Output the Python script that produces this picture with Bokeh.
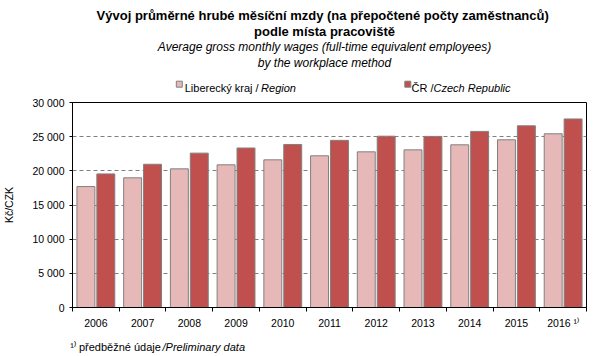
import math
from bokeh.plotting import figure
from bokeh.models import Range1d, FixedTicker, Label, ColumnDataSource
from bokeh.embed import file_html
from bokeh.resources import INLINE

years = ["2006", "2007", "2008", "2009", "2010", "2011", "2012", "2013", "2014", "2015", "2016"]
year_labels = ["2006", "2007", "2008", "2009", "2010", "2011", "2012", "2013", "2014", "2015", "2016 ¹⁾"]
liberec = [17700, 18980, 20290, 20880, 21610, 22200, 22780, 23070, 23810, 24540, 25420]
czech = [19550, 20960, 22590, 23340, 23860, 24460, 25070, 25040, 25770, 26590, 27590]
y_ticks = [0, 5000, 10000, 15000, 20000, 25000, 30000]
y_tick_labels = ["0", "5 000", "10 000", "15 000", "20 000", "25 000", "30 000"]

FONT = "Liberation Sans"
LIGHT = "#E6B9B8"
DARK = "#C0504D"
EDGE = "#808080"
NB = "\u00a0"

W, H = 596, 356
FL, FR, FT, FB = 70, 586, 102, 307

p = figure(width=W, height=H, output_backend="svg", toolbar_location=None,
           x_range=Range1d(0, len(years)), y_range=Range1d(0, 30000),
           min_border_left=FL, min_border_right=W - FR, min_border_top=FT,
           min_border_bottom=H - FB)
p.outline_line_color = "black"
p.outline_line_width = 1
p.background_fill_color = "white"
p.border_fill_color = "white"

centers = [i + 0.5 for i in range(len(years))]
off = 0.213
bw = 0.384
src = ColumnDataSource(dict(
    xl=[c - off for c in centers], xd=[c + off for c in centers],
    lib=liberec, cz=czech))
p.vbar(x="xl", top="lib", width=bw, source=src, fill_color=LIGHT,
       line_color=EDGE, line_width=1)
p.vbar(x="xd", top="cz", width=bw, source=src, fill_color=DARK,
       line_color=EDGE, line_width=1)

# axes
p.xgrid.visible = False
p.ygrid.ticker = FixedTicker(ticks=y_ticks[1:-1])
p.ygrid.grid_line_color = "#808080"
p.ygrid.grid_line_dash = "4 3"
p.ygrid.grid_line_width = 1

p.yaxis.ticker = FixedTicker(ticks=y_ticks)
p.yaxis.major_label_overrides = {t: s for t, s in zip(y_ticks, y_tick_labels)}
p.yaxis.major_tick_out = 3
p.yaxis.major_tick_in = 0
p.yaxis.minor_tick_line_color = None
p.yaxis.axis_line_color = "black"
p.yaxis.major_tick_line_color = "black"
p.yaxis.major_label_standoff = 5
p.yaxis.major_label_text_font = FONT
p.yaxis.major_label_text_font_size = "10.5px"
p.yaxis.major_label_text_color = "black"
p.yaxis.axis_label = "Kč/CZK"
p.yaxis.axis_label_text_font = FONT
p.yaxis.axis_label_text_font_size = "10.5px"
p.yaxis.axis_label_text_font_style = "normal"
p.yaxis.axis_label_text_color = "black"
p.yaxis.axis_label_standoff = 14

p.xaxis.ticker = FixedTicker(ticks=centers, minor_ticks=list(range(len(years) + 1)))
p.xaxis.major_label_overrides = {c: y for c, y in zip(centers, year_labels)}
p.xaxis.major_tick_line_color = None
p.xaxis.major_tick_out = 0
p.xaxis.major_tick_in = 0
p.xaxis.minor_tick_out = 4
p.xaxis.minor_tick_in = 0
p.xaxis.minor_tick_line_color = "black"
p.xaxis.axis_line_color = "black"
p.xaxis.major_label_standoff = 5
p.xaxis.major_label_text_font = FONT
p.xaxis.major_label_text_font_size = "10.5px"
p.xaxis.major_label_text_color = "black"


def th(size):
    return math.ceil(1.117 * size) - 1


# labels stacked in the panel above the frame; each one sits in its own slot,
# its screen y is measured upward from that slot's bottom edge
above_bottom = [FT]


def above(cx, cy, text, size, style="normal", align="left", baseline="alphabetic", **kw):
    pb = above_bottom[0]
    p.add_layout(Label(x=cx - FL, y=pb - cy, x_units="screen", y_units="screen",
                       text=text, text_font=FONT, text_font_size="%gpx" % size,
                       text_font_style=style, text_align=align,
                       text_baseline=baseline, text_color="black", **kw), "above")
    above_bottom[0] = pb - th(size)


# legend swatches
SW = 5.4
above(173.8, 80.7, NB * 4, SW, baseline="top", background_fill_color=LIGHT,
      border_line_color=EDGE, border_line_width=1)
above(402.3, 80.7, NB * 4, SW, baseline="top", background_fill_color=DARK,
      border_line_color=EDGE, border_line_width=1)
# legend texts
above(182.2, 87, "Liberecký kraj /" + NB * 50 + "ČR /", 11)
above(258.6, 87, "Region" + NB * 45 + "Czech Republic", 11, "italic")
# titles
cx = 322
above(cx, 62.7, "by the workplace method", 12, "italic", "center")
above(cx, 47, "Average gross monthly wages (full-time equivalent employees)", 12, "italic", "center")
above(cx, 33.3, "podle místa pracoviště", 13, "bold", "center")
above(cx, 18.3, "Vývoj průměrné hrubé měsíční mzdy (na přepočtené  počty zaměstnanců)", 13, "bold", "center")

# footnote, stacked below the x axis
AXIS_H = 24
below_top = [FB + AXIS_H]


def below(cx, cy, text, size, style="normal"):
    pt = below_top[0]
    pb = pt + th(size)
    p.add_layout(Label(x=cx - FL, y=pb - cy, x_units="screen", y_units="screen",
                       text=text, text_font=FONT, text_font_size="%gpx" % size,
                       text_font_style=style, text_align="left",
                       text_baseline="alphabetic", text_color="black"), "below")
    below_top[0] = pb


below(67.7, 346.5, "¹⁾ předběžné údaje", 11)
below(160, 346.5, "/Preliminary data", 11, "italic")

open("out.html", "w").write(file_html(p, INLINE))
